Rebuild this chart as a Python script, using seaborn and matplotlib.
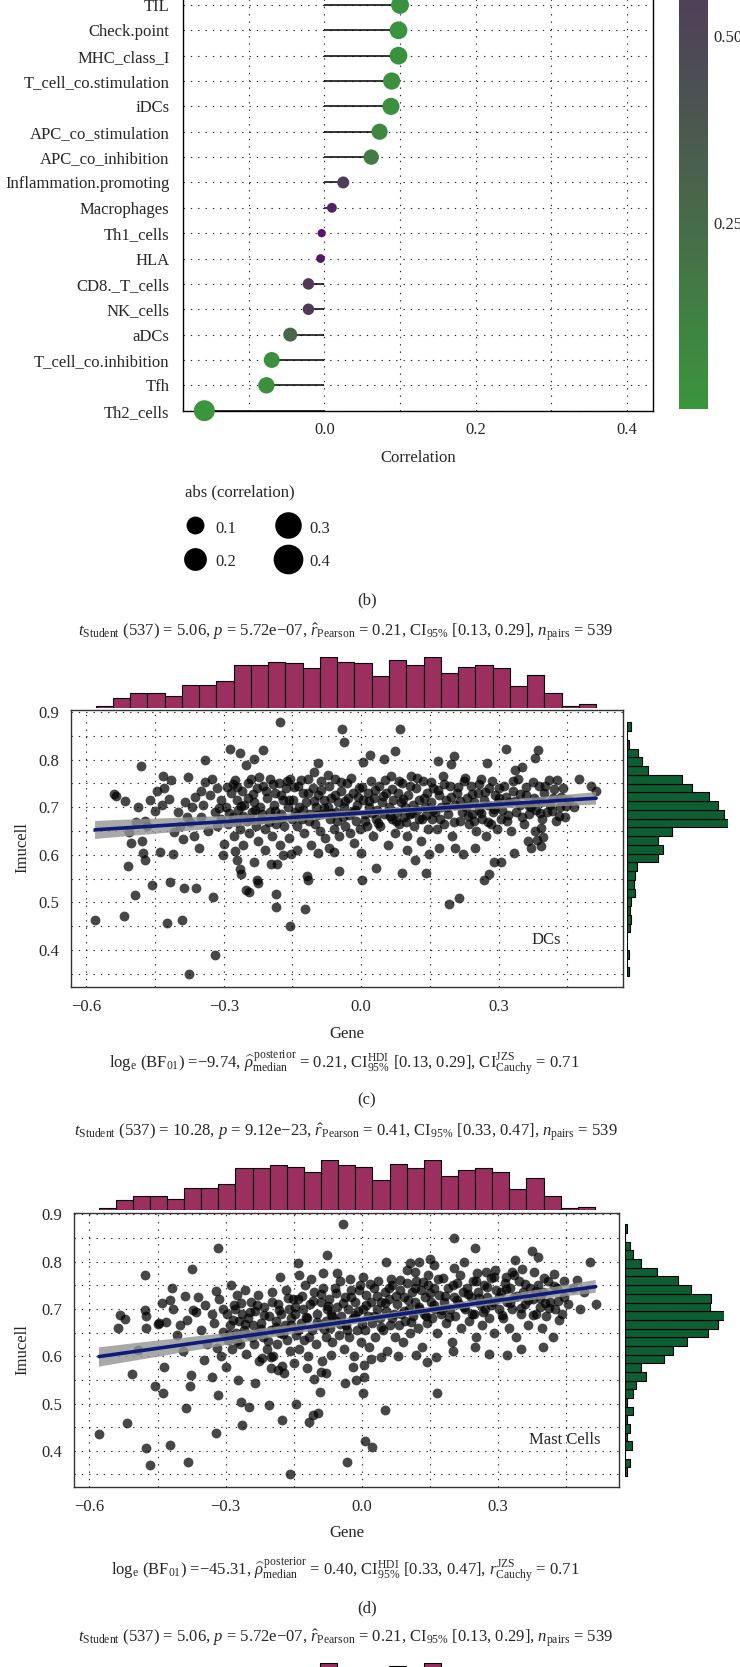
import numpy as np
import pandas as pd
import matplotlib
matplotlib.use("Agg")
import matplotlib.pyplot as plt
import seaborn as sns
from matplotlib.colors import LinearSegmentedColormap, Normalize
from matplotlib.cm import ScalarMappable
from matplotlib.lines import Line2D
from matplotlib.collections import PolyCollection

# ---------------- data: panel (b) lollipop ----------------
cells = ["TIL", "Check.point", "MHC_class_I", "T_cell_co.stimulation", "iDCs",
         "APC_co_stimulation", "APC_co_inhibition", "Inflammation.promoting",
         "Macrophages", "Th1_cells", "HLA", "CD8._T_cells", "NK_cells", "aDCs",
         "T_cell_co.inhibition", "Tfh", "Th2_cells"]
correlation = [0.100, 0.098, 0.098, 0.089, 0.088, 0.073, 0.062, 0.025, 0.010,
               -0.0035, -0.005, -0.021, -0.021, -0.045, -0.0695, -0.0765, -0.1585]
pvalue = [0.02, 0.022, 0.022, 0.035, 0.036, 0.09, 0.15, 0.58, 0.83,
          0.94, 0.91, 0.62, 0.62, 0.29, 0.035, 0.03, 0.0002]
legend_sizes = [0.1, 0.2, 0.3, 0.4]
cbar_ticks = [0.25, 0.50]

# ---------------- data: marginal histograms ----------------
gene_bin_start = -0.580
gene_bin_width = 0.0377
gene_counts = [1, 6, 9, 9, 7, 14, 14, 16, 26, 26, 28, 27, 24, 31, 28, 27, 19, 29,
               26, 31, 21, 25, 26, 24, 13, 20, 9, 1, 2]
imucell_bin_top = 0.8785
dcs_bin_width = 0.0184
dcs_counts_top_down = [3, 0, 1, 8, 11, 15, 40, 48, 60, 67, 71, 74, 33, 23, 26, 23,
                       7, 6, 5, 6, 3, 2, 3, 2, 0, 0, 1, 0, 1]
mast_bin_width = 0.01833
mast_counts_top_down = [1, 0, 3, 5, 10, 20, 33, 41, 54, 53, 62, 58, 52, 39, 30, 24,
                        10, 13, 7, 5, 1, 5, 1, 3, 1, 4, 0, 3, 1]

# ---------------- data: scatter (Gene, Imucell) ----------------
dcs_pairs = [
    (-0.581, 0.463), (-0.540, 0.728), (-0.535, 0.724), (-0.518, 0.472), (-0.516, 0.714), (-0.510, 0.576), (-0.507, 0.647),
    (-0.502, 0.625), (-0.494, 0.516), (-0.488, 0.700), (-0.481, 0.787), (-0.478, 0.629), (-0.476, 0.604), (-0.473, 0.590),
    (-0.492, 0.668), (-0.473, 0.672), (-0.457, 0.537), (-0.451, 0.693), (-0.432, 0.766), (-0.434, 0.704), (-0.440, 0.606),
    (-0.468, 0.660), (-0.460, 0.715), (-0.445, 0.735),
    (-0.430, 0.740), (-0.425, 0.456), (-0.420, 0.718), (-0.417, 0.543), (-0.415, 0.757), (-0.410, 0.602), (-0.408, 0.647),
    (-0.400, 0.690), (-0.395, 0.660), (-0.392, 0.463), (-0.390, 0.633), (-0.387, 0.531), (-0.385, 0.710), (-0.378, 0.764),
    (-0.376, 0.349), (-0.380, 0.680),
    (-0.373, 0.668), (-0.362, 0.721), (-0.361, 0.530), (-0.349, 0.735), (-0.342, 0.752), (-0.340, 0.799), (-0.326, 0.760),
    (-0.324, 0.511), (-0.319, 0.389), (-0.314, 0.660), (-0.311, 0.698), (-0.306, 0.716), (-0.300, 0.623), (-0.370, 0.700),
    (-0.365, 0.640), (-0.355, 0.615), (-0.350, 0.680), (-0.345, 0.705), (-0.335, 0.650), (-0.330, 0.725), (-0.320, 0.690),
    (-0.315, 0.740), (-0.305, 0.675), (-0.302, 0.600),
    (-0.286, 0.822), (-0.279, 0.748), (-0.275, 0.609), (-0.270, 0.590), (-0.270, 0.743), (-0.265, 0.571), (-0.264, 0.813),
    (-0.262, 0.560), (-0.252, 0.788), (-0.252, 0.526), (-0.245, 0.521), (-0.233, 0.802), (-0.233, 0.585), (-0.227, 0.548),
    (-0.295, 0.700), (-0.290, 0.665), (-0.285, 0.730), (-0.280, 0.680), (-0.278, 0.640), (-0.272, 0.715), (-0.268, 0.695),
    (-0.265, 0.655), (-0.260, 0.735), (-0.258, 0.620), (-0.255, 0.705), (-0.250, 0.670), (-0.248, 0.720), (-0.245, 0.645),
    (-0.240, 0.760), (-0.238, 0.690), (-0.235, 0.710), (-0.230, 0.660), (-0.228, 0.740), (-0.226, 0.630),
    (-0.225, 0.540), (-0.215, 0.821), (-0.196, 0.581), (-0.185, 0.518), (-0.185, 0.491), (-0.183, 0.581), (-0.177, 0.878),
    (-0.155, 0.450), (-0.154, 0.601), (-0.220, 0.700), (-0.218, 0.675), (-0.215, 0.745), (-0.210, 0.655), (-0.205, 0.720),
    (-0.200, 0.690), (-0.198, 0.760), (-0.195, 0.640), (-0.190, 0.705), (-0.188, 0.730), (-0.185, 0.665), (-0.180, 0.750),
    (-0.178, 0.620), (-0.175, 0.685), (-0.170, 0.715), (-0.168, 0.660), (-0.165, 0.740), (-0.160, 0.700), (-0.158, 0.635),
    (-0.155, 0.760), (-0.152, 0.675), (-0.210, 0.610), (-0.170, 0.600),
    (-0.122, 0.486), (-0.118, 0.555), (-0.117, 0.547), (-0.094, 0.793), (-0.095, 0.603), (-0.148, 0.715), (-0.145, 0.690),
    (-0.140, 0.660), (-0.138, 0.745), (-0.135, 0.700), (-0.130, 0.675), (-0.128, 0.730), (-0.125, 0.645), (-0.120, 0.710),
    (-0.115, 0.760), (-0.112, 0.685), (-0.110, 0.620), (-0.105, 0.740), (-0.100, 0.665), (-0.098, 0.700), (-0.095, 0.725),
    (-0.090, 0.650), (-0.088, 0.755), (-0.085, 0.685), (-0.080, 0.715), (-0.078, 0.635), (-0.140, 0.610), (-0.102, 0.775),
    (-0.071, 0.614), (-0.049, 0.567), (-0.042, 0.864), (-0.037, 0.836), (-0.015, 0.624), (0.002, 0.547), (-0.072, 0.700),
    (-0.070, 0.745), (-0.068, 0.675), (-0.065, 0.720), (-0.060, 0.655), (-0.058, 0.760), (-0.055, 0.690), (-0.050, 0.710),
    (-0.048, 0.640), (-0.045, 0.735), (-0.040, 0.680), (-0.038, 0.700), (-0.035, 0.660), (-0.030, 0.750), (-0.028, 0.720),
    (-0.025, 0.645), (-0.020, 0.690), (-0.018, 0.730), (-0.012, 0.670), (-0.010, 0.705), (-0.005, 0.740), (-0.003, 0.655),
    (-0.060, 0.605),
    (0.005, 0.796), (0.000, 0.603), (0.020, 0.810), (0.032, 0.572), (0.050, 0.802), (0.005, 0.715), (0.008, 0.685),
    (0.012, 0.660), (0.015, 0.730), (0.018, 0.700), (0.022, 0.755), (0.025, 0.640), (0.028, 0.720), (0.032, 0.675),
    (0.035, 0.695), (0.040, 0.745), (0.042, 0.660), (0.045, 0.710), (0.050, 0.685), (0.055, 0.730), (0.058, 0.620),
    (0.060, 0.700), (0.065, 0.765), (0.068, 0.675), (0.070, 0.715), (0.073, 0.645),
    (0.075, 0.819), (0.085, 0.864), (0.090, 0.562), (0.117, 0.590), (0.142, 0.562), (0.149, 0.601), (0.078, 0.690),
    (0.080, 0.730), (0.083, 0.665), (0.087, 0.710), (0.090, 0.750), (0.093, 0.680), (0.096, 0.700), (0.100, 0.640),
    (0.103, 0.725), (0.106, 0.685), (0.110, 0.765), (0.113, 0.705), (0.116, 0.660), (0.120, 0.740), (0.123, 0.695),
    (0.126, 0.715), (0.130, 0.630), (0.133, 0.675), (0.136, 0.755), (0.140, 0.700), (0.143, 0.730), (0.146, 0.655),
    (0.100, 0.610),
    (0.167, 0.798), (0.170, 0.615), (0.191, 0.497), (0.203, 0.808), (0.196, 0.790), (0.206, 0.615), (0.213, 0.510),
    (0.222, 0.601), (0.152, 0.710), (0.155, 0.675), (0.158, 0.740), (0.162, 0.690), (0.165, 0.655), (0.170, 0.725),
    (0.175, 0.700), (0.178, 0.765), (0.180, 0.665), (0.185, 0.715), (0.190, 0.685), (0.195, 0.745), (0.198, 0.640),
    (0.205, 0.705), (0.210, 0.730), (0.215, 0.670), (0.220, 0.690), (0.224, 0.755),
    (0.248, 0.615), (0.269, 0.547), (0.275, 0.793), (0.279, 0.560), (0.290, 0.585), (0.228, 0.700), (0.232, 0.720),
    (0.235, 0.665), (0.240, 0.745), (0.243, 0.685), (0.247, 0.710), (0.250, 0.650), (0.255, 0.730), (0.258, 0.695),
    (0.262, 0.760), (0.265, 0.675), (0.268, 0.715), (0.272, 0.640), (0.276, 0.705), (0.280, 0.740), (0.284, 0.665),
    (0.288, 0.690), (0.292, 0.725), (0.296, 0.655), (0.298, 0.710),
    (0.305, 0.585), (0.316, 0.822), (0.334, 0.603), (0.337, 0.778), (0.352, 0.784), (0.364, 0.630), (0.370, 0.615),
    (0.302, 0.720), (0.308, 0.695), (0.312, 0.745), (0.318, 0.670), (0.322, 0.710), (0.328, 0.650), (0.332, 0.735),
    (0.338, 0.690), (0.342, 0.760), (0.348, 0.705), (0.355, 0.665), (0.360, 0.725), (0.366, 0.685), (0.372, 0.700),
    (0.379, 0.803), (0.386, 0.820), (0.380, 0.651), (0.385, 0.632), (0.393, 0.657), (0.398, 0.637), (0.393, 0.619),
    (0.410, 0.757), (0.428, 0.757), (0.432, 0.682), (0.378, 0.720), (0.382, 0.695), (0.388, 0.745), (0.392, 0.710),
    (0.396, 0.675), (0.400, 0.730), (0.405, 0.690), (0.412, 0.705), (0.418, 0.720), (0.425, 0.670), (0.435, 0.700),
    (0.440, 0.740), (0.445, 0.680),
    (0.475, 0.759), (0.501, 0.745), (0.513, 0.734), (0.455, 0.715), (0.465, 0.700),
    (-0.292, 0.742), (-0.288, 0.688), (-0.276, 0.757), (-0.271, 0.668), (-0.262, 0.702), (-0.257, 0.681), (-0.247, 0.751),
    (-0.242, 0.676), (-0.236, 0.728), (-0.231, 0.695), (-0.222, 0.763), (-0.217, 0.686), (-0.207, 0.735), (-0.202, 0.668),
    (-0.193, 0.748), (-0.187, 0.693), (-0.176, 0.725), (-0.172, 0.677), (-0.162, 0.755), (-0.157, 0.716), (-0.147, 0.742),
    (-0.142, 0.681), (-0.132, 0.757), (-0.127, 0.694), (-0.117, 0.729), (-0.113, 0.671), (-0.103, 0.712), (-0.097, 0.683),
    (-0.087, 0.736), (-0.082, 0.698), (-0.073, 0.767), (-0.066, 0.688), (-0.057, 0.726), (-0.052, 0.672), (-0.043, 0.752),
    (-0.036, 0.712), (-0.027, 0.684), (-0.022, 0.761), (-0.013, 0.694), (-0.007, 0.722), (0.003, 0.743), (0.009, 0.671),
    (0.017, 0.713), (0.024, 0.688), (0.031, 0.736), (0.037, 0.667), (0.047, 0.724), (0.052, 0.757), (0.062, 0.682),
    (0.067, 0.738), (0.077, 0.672), (0.082, 0.756), (0.092, 0.718), (0.098, 0.669), (0.107, 0.745), (0.112, 0.687),
    (0.122, 0.762), (0.127, 0.676), (0.137, 0.719), (0.142, 0.684), (0.153, 0.752), (0.157, 0.694), (0.167, 0.737),
    (0.172, 0.676), (0.182, 0.748), (0.187, 0.701), (0.197, 0.722), (0.202, 0.668), (0.212, 0.743), (0.217, 0.712),
    (0.227, 0.762), (0.233, 0.681), (0.242, 0.727), (0.246, 0.672), (0.257, 0.748), (0.262, 0.688), (0.271, 0.731),
    (0.277, 0.668), (0.286, 0.756), (0.291, 0.697), (0.301, 0.741), (0.306, 0.676), (0.316, 0.722), (0.321, 0.684),
    (0.331, 0.754), (0.336, 0.712), (0.346, 0.728), (0.351, 0.679), (0.361, 0.743), (0.367, 0.702), (0.376, 0.752),
    (0.381, 0.712), (0.391, 0.688), (0.402, 0.745), (0.416, 0.693), (0.421, 0.738), (0.437, 0.722), (0.447, 0.703),
]

mast_pairs = [
    (-0.042, 0.879), (-0.317, 0.828), (0.204, 0.849), (0.250, 0.829), (-0.375, 0.785), (-0.478, 0.772), (-0.077, 0.813),
    (-0.141, 0.797), (0.054, 0.799), (0.106, 0.797), (0.125, 0.799), (0.151, 0.806), (0.159, 0.792), (0.225, 0.799),
    (0.338, 0.803), (0.375, 0.822), (0.388, 0.810), (0.502, 0.799), (-0.085, 0.776), (-0.054, 0.776), (-0.139, 0.771),
    (-0.180, 0.768), (-0.112, 0.764), (-0.027, 0.764), (0.003, 0.768), (0.064, 0.764), (0.099, 0.782), (0.118, 0.779),
    (0.145, 0.771), (0.204, 0.786), (0.253, 0.775), (0.273, 0.778), (0.294, 0.782), (0.318, 0.768), (0.330, 0.778),
    (0.353, 0.785), (0.380, 0.778), (0.424, 0.773), (0.473, 0.762),
    (-0.579, 0.436), (-0.518, 0.458), (-0.537, 0.660), (-0.533, 0.687), (-0.521, 0.678), (-0.506, 0.562), (-0.494, 0.613),
    (-0.478, 0.698), (-0.475, 0.684), (-0.475, 0.659), (-0.475, 0.405), (-0.466, 0.370), (-0.456, 0.536), (-0.439, 0.522),
    (-0.446, 0.670), (-0.431, 0.673), (-0.422, 0.412), (-0.435, 0.578), (-0.418, 0.744), (-0.422, 0.719), (-0.407, 0.645),
    (-0.388, 0.490), (-0.383, 0.377), (-0.378, 0.536), (-0.376, 0.560), (-0.386, 0.677), (-0.371, 0.698), (-0.360, 0.726),
    (-0.348, 0.592), (-0.331, 0.557), (-0.321, 0.438), (-0.322, 0.737), (-0.318, 0.617), (-0.317, 0.518), (-0.305, 0.652),
    (-0.300, 0.578), (-0.288, 0.751), (-0.281, 0.709), (-0.272, 0.550), (-0.267, 0.504), (-0.265, 0.454), (-0.249, 0.493),
    (-0.236, 0.543), (-0.221, 0.596), (-0.205, 0.497), (-0.184, 0.571), (-0.176, 0.465), (-0.159, 0.350), (-0.146, 0.500),
    (-0.117, 0.461), (-0.108, 0.475), (-0.096, 0.479), (-0.105, 0.551), (-0.091, 0.567), (-0.093, 0.524), (-0.069, 0.602),
    (-0.038, 0.543), (-0.033, 0.377), (-0.012, 0.550), (0.004, 0.557), (0.002, 0.522), (0.006, 0.420), (0.022, 0.409),
    (0.004, 0.581), (0.051, 0.486), (0.043, 0.599), (0.166, 0.522), (0.144, 0.588), (0.164, 0.599), (0.320, 0.602),
    (0.398, 0.620), (0.435, 0.677), (0.515, 0.711), (0.403, 0.712),
    (-0.450, 0.668), (-0.440, 0.712), (-0.415, 0.700), (-0.400, 0.666), (-0.395, 0.610), (-0.390, 0.727), (-0.365, 0.693),
    (-0.355, 0.655), (-0.345, 0.708), (-0.340, 0.625), (-0.330, 0.690), (-0.325, 0.670), (-0.315, 0.720), (-0.310, 0.600),
    (-0.305, 0.700),
    (-0.298, 0.690), (-0.295, 0.635), (-0.290, 0.665), (-0.285, 0.615), (-0.280, 0.700), (-0.278, 0.650), (-0.275, 0.730),
    (-0.270, 0.675), (-0.268, 0.625), (-0.265, 0.690), (-0.260, 0.655), (-0.258, 0.740), (-0.255, 0.605), (-0.250, 0.680),
    (-0.248, 0.645), (-0.245, 0.715), (-0.240, 0.665), (-0.238, 0.625), (-0.235, 0.695), (-0.230, 0.650), (-0.228, 0.730),
    (-0.226, 0.590),
    (-0.222, 0.670), (-0.218, 0.640), (-0.215, 0.705), (-0.210, 0.615), (-0.205, 0.685), (-0.200, 0.655), (-0.198, 0.735),
    (-0.195, 0.600), (-0.190, 0.675), (-0.188, 0.625), (-0.185, 0.710), (-0.180, 0.650), (-0.178, 0.690), (-0.175, 0.580),
    (-0.170, 0.665), (-0.168, 0.740), (-0.165, 0.635), (-0.160, 0.700), (-0.158, 0.610), (-0.155, 0.680), (-0.152, 0.720),
    (-0.200, 0.575), (-0.172, 0.565),
    (-0.148, 0.690), (-0.145, 0.645), (-0.140, 0.720), (-0.138, 0.615), (-0.135, 0.670), (-0.130, 0.700), (-0.128, 0.635),
    (-0.125, 0.750), (-0.120, 0.680), (-0.118, 0.600), (-0.115, 0.710), (-0.110, 0.655), (-0.105, 0.735), (-0.100, 0.625),
    (-0.098, 0.690), (-0.095, 0.665), (-0.090, 0.715), (-0.088, 0.590), (-0.085, 0.745), (-0.080, 0.675), (-0.078, 0.640),
    (-0.076, 0.700),
    (-0.072, 0.720), (-0.070, 0.660), (-0.068, 0.690), (-0.065, 0.630), (-0.060, 0.745), (-0.058, 0.675), (-0.055, 0.705),
    (-0.050, 0.645), (-0.048, 0.760), (-0.045, 0.685), (-0.040, 0.615), (-0.038, 0.725), (-0.035, 0.665), (-0.030, 0.700),
    (-0.028, 0.640), (-0.025, 0.740), (-0.020, 0.680), (-0.018, 0.600), (-0.015, 0.715), (-0.010, 0.655), (-0.008, 0.695),
    (-0.005, 0.750), (-0.002, 0.630),
    (0.003, 0.700), (0.006, 0.655), (0.010, 0.730), (0.013, 0.685), (0.016, 0.620), (0.020, 0.715), (0.023, 0.670),
    (0.026, 0.745), (0.030, 0.640), (0.033, 0.700), (0.036, 0.760), (0.040, 0.680), (0.043, 0.715), (0.046, 0.655),
    (0.050, 0.735), (0.053, 0.695), (0.056, 0.610), (0.060, 0.720), (0.063, 0.665), (0.066, 0.750), (0.070, 0.690),
    (0.073, 0.640),
    (0.078, 0.710), (0.081, 0.665), (0.084, 0.740), (0.087, 0.690), (0.090, 0.630), (0.093, 0.725), (0.096, 0.675),
    (0.100, 0.755), (0.103, 0.700), (0.106, 0.650), (0.110, 0.735), (0.113, 0.685), (0.116, 0.715), (0.120, 0.760),
    (0.123, 0.660), (0.126, 0.700), (0.130, 0.740), (0.133, 0.620), (0.136, 0.690), (0.140, 0.725), (0.143, 0.670),
    (0.146, 0.750),
    (0.152, 0.715), (0.155, 0.680), (0.158, 0.745), (0.162, 0.700), (0.165, 0.650), (0.170, 0.730), (0.175, 0.690),
    (0.178, 0.765), (0.180, 0.715), (0.185, 0.670), (0.190, 0.745), (0.195, 0.700), (0.198, 0.630), (0.202, 0.725),
    (0.206, 0.685), (0.210, 0.755), (0.214, 0.710), (0.218, 0.660), (0.222, 0.735),
    (0.228, 0.700), (0.232, 0.745), (0.236, 0.675), (0.240, 0.725), (0.244, 0.760), (0.248, 0.690), (0.252, 0.640),
    (0.256, 0.735), (0.260, 0.710), (0.264, 0.665), (0.268, 0.750), (0.272, 0.700), (0.276, 0.725), (0.280, 0.680),
    (0.284, 0.765), (0.288, 0.715), (0.292, 0.650), (0.296, 0.740),
    (0.303, 0.700), (0.307, 0.735), (0.311, 0.680), (0.315, 0.755), (0.319, 0.715), (0.323, 0.660), (0.327, 0.745),
    (0.331, 0.700), (0.336, 0.725), (0.340, 0.640), (0.345, 0.760), (0.350, 0.690), (0.355, 0.735), (0.360, 0.710),
    (0.365, 0.665), (0.370, 0.745),
    (0.378, 0.720), (0.383, 0.690), (0.388, 0.750), (0.392, 0.705), (0.396, 0.660), (0.400, 0.735), (0.405, 0.685),
    (0.410, 0.760), (0.415, 0.715), (0.420, 0.640), (0.425, 0.700), (0.430, 0.745), (0.440, 0.690), (0.445, 0.725),
    (0.455, 0.710), (0.465, 0.745), (0.480, 0.700), (0.490, 0.735),
    (-0.200, 0.598), (-0.150, 0.585), (-0.120, 0.575), (-0.080, 0.565), (-0.020, 0.578), (0.020, 0.595), (0.080, 0.600),
    (0.120, 0.602), (0.200, 0.612), (0.250, 0.620), (0.280, 0.605), (0.350, 0.615),
    (-0.292, 0.648), (-0.284, 0.676), (-0.276, 0.632), (-0.266, 0.712), (-0.257, 0.668), (-0.247, 0.694), (-0.241, 0.641),
    (-0.232, 0.708), (-0.223, 0.657), (-0.216, 0.688), (-0.207, 0.633), (-0.197, 0.715), (-0.189, 0.662), (-0.182, 0.698),
    (-0.173, 0.648), (-0.163, 0.722), (-0.156, 0.667), (-0.147, 0.705), (-0.141, 0.655), (-0.132, 0.728), (-0.124, 0.683),
    (-0.116, 0.641), (-0.107, 0.716), (-0.099, 0.672), (-0.091, 0.731), (-0.083, 0.658), (-0.074, 0.707), (-0.066, 0.684),
    (-0.057, 0.733), (-0.049, 0.668), (-0.041, 0.712), (-0.032, 0.655), (-0.024, 0.726), (-0.016, 0.687), (-0.007, 0.741),
    (0.001, 0.668), (0.009, 0.708), (0.017, 0.752), (0.026, 0.684), (0.034, 0.727), (0.042, 0.662), (0.051, 0.712),
    (0.059, 0.745), (0.067, 0.681), (0.076, 0.728), (0.084, 0.761), (0.092, 0.696), (0.101, 0.718), (0.109, 0.672),
    (0.117, 0.744), (0.126, 0.705), (0.134, 0.757), (0.142, 0.686), (0.151, 0.733), (0.159, 0.708), (0.167, 0.764),
    (0.176, 0.698), (0.184, 0.727), (0.192, 0.682), (0.201, 0.751), (0.209, 0.719), (0.217, 0.771), (0.226, 0.703),
    (0.234, 0.732), (0.242, 0.689), (0.251, 0.758), (0.259, 0.722), (0.267, 0.694), (0.276, 0.747), (0.284, 0.708),
    (0.292, 0.768), (0.301, 0.726), (0.309, 0.688), (0.317, 0.742), (0.326, 0.712), (0.334, 0.772), (0.342, 0.728),
    (0.351, 0.701), (0.359, 0.752), (0.367, 0.718), (0.376, 0.688), (0.384, 0.738), (0.392, 0.724), (0.401, 0.766),
    (0.412, 0.702), (0.423, 0.748), (0.432, 0.716), (0.446, 0.758),
]

title_c = (r"$t_{\mathrm{Student}}$ (537) = 5.06, $p$ = 5.72e−07, $\hat{r}_{\mathrm{Pearson}}$ = 0.21, "
           r"CI$_{95\%}$ [0.13, 0.29], $n_{\mathrm{pairs}}$ = 539")
sub_c = (r"log$_{\mathrm{e}}$ (BF$_{01}$) =−9.74, $\widehat{\rho}_{\mathrm{median}}^{\,\mathrm{posterior}}$ = 0.21, "
         r"CI$_{95\%}^{\mathrm{HDI}}$ [0.13, 0.29], CI$_{\mathrm{Cauchy}}^{\mathrm{JZS}}$ = 0.71")
title_d = (r"$t_{\mathrm{Student}}$ (537) = 10.28, $p$ = 9.12e−23, $\hat{r}_{\mathrm{Pearson}}$ = 0.41, "
           r"CI$_{95\%}$ [0.33, 0.47], $n_{\mathrm{pairs}}$ = 539")
sub_d = (r"log$_{\mathrm{e}}$ (BF$_{01}$) =−45.31, $\widehat{\rho}_{\mathrm{median}}^{\,\mathrm{posterior}}$ = 0.40, "
         r"CI$_{95\%}^{\mathrm{HDI}}$ [0.33, 0.47], $r_{\mathrm{Cauchy}}^{\mathrm{JZS}}$ = 0.71")

# ---------------- style ----------------
sns.set_style("white")
plt.rcParams["font.family"] = ["Liberation Serif", "DejaVu Serif"]
plt.rcParams["mathtext.fontset"] = "custom"
plt.rcParams["mathtext.rm"] = "Liberation Serif"
plt.rcParams["mathtext.it"] = "Liberation Serif:italic"
plt.rcParams["mathtext.bf"] = "Liberation Serif:bold"
plt.rcParams["axes.unicode_minus"] = True

W, H = 740, 1667
fig = plt.figure(figsize=(W / 100, H / 100), dpi=100)
fig.patch.set_facecolor("white")


def rect(l, t, r, b):
    return [l / W, 1 - b / H, (r - l) / W, (b - t) / H]


def ftext(x, y, s, **kw):
    fig.text(x / W, 1 - y / H, s, ha=kw.pop("ha", "center"), va=kw.pop("va", "center"), **kw)


DOT = (0, (1.2, 5.4))
GRID = dict(color="#222222", linewidth=0.8, linestyle=DOT)

cmap = LinearSegmentedColormap.from_list(
    "pg", [(0.0, "#3A953D"), (0.25, "#486B49"), (0.5, "#4E4657"), (0.75, "#54295F"), (1.0, "#5B0C6E")])


def dot_area(v):
    d_px = 6.1 + 37.3 * np.sqrt(np.asarray(v, dtype=float))
    return (d_px * 0.72) ** 2


# ---------------- panel (b): lollipop ----------------
ax = fig.add_axes(rect(183.3, -60, 653.3, 410.7))
n = len(cells)
df = pd.DataFrame({"cell": cells, "cor": correlation, "p": pvalue})
df["ypos"] = n - 1 - np.arange(n)
df["area"] = dot_area(np.abs(df["cor"]))
ax.hlines(df["ypos"], 0, df["cor"], color="black", lw=1.1, zorder=2)
amin, amax = df["area"].min(), df["area"].max()
sns.scatterplot(data=df, x="cor", y="ypos", hue="p", palette=cmap, hue_norm=(0, 1),
                size="area", sizes=(amin, amax), size_norm=(amin, amax),
                linewidth=0, legend=False, ax=ax, zorder=3, clip_on=False)
ax.set_ylim(0, 470.7 / 25.36)
ax.set_xlim(-0.1863, 0.4346)
ax.set_yticks(df["ypos"])
ax.set_yticklabels(cells)
ax.set_xticks([0.0, 0.2, 0.4])
ax.set_xticklabels(["0.0", "0.2", "0.4"])
ax.set_xticks([-0.1, 0.1, 0.3], minor=True)
ax.grid(True, which="both", axis="x", **GRID)
ax.grid(True, which="major", axis="y", **GRID)
ax.set_axisbelow(True)
ax.tick_params(which="major", direction="out", length=4, width=1, labelsize=12, pad=4, color="black")
ax.tick_params(axis="y", pad=6)
ax.tick_params(which="minor", length=0)
ax.set_xlabel("")
ax.set_ylabel("")
for sp in ax.spines.values():
    sp.set_color("black")
    sp.set_linewidth(1.0)
ftext(418.3, 458.3, "Correlation", fontsize=12)

# colorbar
cax = fig.add_axes(rect(679, 409.3 - 746.7, 708, 409.3))
cb = fig.colorbar(ScalarMappable(norm=Normalize(0, 1), cmap=cmap), cax=cax)
cb.outline.set_visible(False)
cb.set_ticks(cbar_ticks)
cb.set_ticklabels([f"{t:.2f}" for t in cbar_ticks])
cax.tick_params(direction="in", color="white", length=5, width=1, left=True, right=True,
                labelsize=12, pad=4)

# size legend
ftext(185, 492.7, "abs (correlation)", fontsize=12, ha="left")
handles = [Line2D([], [], marker="o", ls="", color="black", markeredgewidth=0,
                  markersize=np.sqrt(dot_area(v))) for v in legend_sizes]
leg = fig.legend(handles, [f"{v:.1f}" for v in legend_sizes], ncol=2, loc="upper left",
                 bbox_to_anchor=(183 / W, 1 - 518 / H), frameon=False,
                 fontsize=12, borderaxespad=0, borderpad=0,
                 handlelength=1.4, handleheight=1.3, handletextpad=0.55, columnspacing=2.4,
                 labelspacing=0.9)

ftext(367, 600.7, "(b)", fontsize=12)


# ---------------- scatter panels ----------------
def top_hist(l, r, t, b, xlim):
    axh = fig.add_axes(rect(l, t, r, b))
    nb = len(gene_counts)
    edges = gene_bin_start + gene_bin_width * np.arange(nb + 1)
    hd = pd.DataFrame({"gene": (edges[:-1] + edges[1:]) / 2, "count": gene_counts})
    sns.histplot(data=hd, x="gene", weights="count", binwidth=gene_bin_width,
                 binrange=(edges[0], edges[-1]), color="#9B3060", edgecolor="black",
                 linewidth=0.8, alpha=1, ax=axh)
    axh.set_xlim(*xlim)
    axh.set_ylim(0, max(gene_counts))
    axh.axis("off")
    return axh


def scatter_panel(pairs, counts_top_down, bw, box, xlim, ylim, top_box, right_box, label, label_xy):
    gx = np.array([p[0] for p in pairs])
    iy = np.array([p[1] for p in pairs])
    axs = fig.add_axes(rect(*box))
    sns.scatterplot(x=gx, y=iy, color="black", alpha=0.72, s=50, linewidth=0, ax=axs, zorder=2)
    sns.regplot(x=gx, y=iy, scatter=False, ci=95, color="#0D1B7A", seed=3,
                line_kws=dict(lw=2.6, zorder=5), ax=axs, truncate=True)
    for coll in axs.collections:
        if isinstance(coll, PolyCollection):
            coll.set_alpha(None)
            coll.set_facecolor((0.58, 0.58, 0.58, 0.8))
            coll.set_edgecolor("none")
            coll.set_zorder(4)
    axs.set_xlim(*xlim)
    axs.set_ylim(*ylim)
    axs.set_xticks([-0.6, -0.3, 0.0, 0.3])
    axs.set_xticklabels(["−0.6", "−0.3", "0.0", "0.3"])
    axs.set_xticks([-0.45, -0.15, 0.15, 0.45], minor=True)
    axs.set_yticks([0.4, 0.5, 0.6, 0.7, 0.8, 0.9])
    axs.set_yticklabels(["0.4", "0.5", "0.6", "0.7", "0.8", "0.9"])
    axs.set_yticks([0.35, 0.45, 0.55, 0.65, 0.75, 0.85], minor=True)
    axs.grid(True, which="both", **GRID)
    axs.set_axisbelow(True)
    axs.tick_params(which="major", direction="out", length=4.5, width=1, labelsize=12, pad=4,
                    color="#333333")
    axs.tick_params(which="minor", length=0)
    axs.set_xlabel("")
    axs.set_ylabel("")
    for sp in axs.spines.values():
        sp.set_color("#333333")
        sp.set_linewidth(1.0)
    axs.text(label_xy[0], label_xy[1], label, ha="right", va="center", fontsize=12)

    top_hist(top_box[0], top_box[1], top_box[2], top_box[3], xlim)

    axr = fig.add_axes(rect(*right_box))
    counts = list(reversed(counts_top_down))
    lo = imucell_bin_top - bw * len(counts)
    edges = lo + bw * np.arange(len(counts) + 1)
    hd = pd.DataFrame({"imucell": (edges[:-1] + edges[1:]) / 2, "count": counts})
    sns.histplot(data=hd, y="imucell", weights="count", binwidth=bw,
                 binrange=(edges[0], edges[-1]), color="#0D5E32", edgecolor="black",
                 linewidth=0.8, alpha=1, ax=axr)
    axr.set_ylim(*ylim)
    axr.set_xlim(0, max(counts))
    axr.axis("off")


# panel (c)
ftext(346, 633, title_c, fontsize=12)
scatter_panel(dcs_pairs, dcs_counts_top_down, dcs_bin_width,
              box=(70.8, 710, 622.6, 987), xlim=(-0.634, 0.571), ylim=(0.3223, 0.9042),
              top_box=(70.8, 622.6, 656.7, 707.7), right_box=(627.3, 710, 727.6, 987),
              label="DCs", label_xy=(0.437, 0.421))
ftext(22, 848, "Imucell", fontsize=12, rotation=90)
ftext(346.7, 1034, "Gene", fontsize=12)
ftext(344, 1063, sub_c, fontsize=12)
ftext(367, 1100.7, "(c)", fontsize=12)

# panel (d)
ftext(346, 1133, title_d, fontsize=12)
scatter_panel(mast_pairs, mast_counts_top_down, mast_bin_width,
              box=(74, 1212.7, 619.3, 1486.7), xlim=(-0.634, 0.567), ylim=(0.3241, 0.9034),
              top_box=(74, 619.3, 1160.3, 1210), right_box=(625.3, 1212.7, 724, 1486.7),
              label="Mast Cells", label_xy=(0.525, 0.423))
ftext(22, 1350, "Imucell", fontsize=12, rotation=90)
ftext(346.7, 1532.7, "Gene", fontsize=12)
ftext(345, 1570, sub_d, fontsize=12)
ftext(367, 1608, "(d)", fontsize=12)

# panel (e) (top edge only visible)
ftext(345.5, 1639, title_c, fontsize=12)
top_hist(70.8, 622.6, 1663, 1713, (-0.634, 0.571))

fig.savefig("out.png", dpi=100, facecolor="white")
